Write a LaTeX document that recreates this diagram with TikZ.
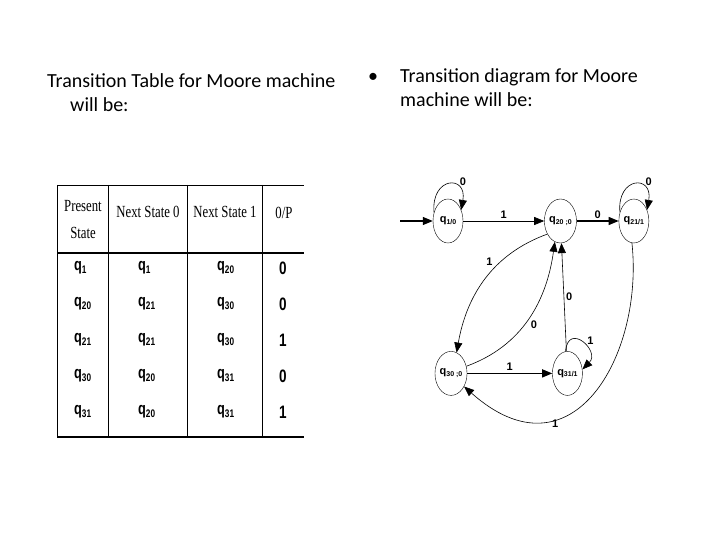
\documentclass[tikz,border=0pt]{standalone}
\usepackage{fontspec}
\setmainfont{Carlito}
\newfontfamily\tabserif[FakeStretch=0.75]{Liberation Serif}
\newfontfamily\tabsans[FakeStretch=0.75]{Liberation Sans}
\newfontfamily\diagsans{Liberation Sans}
\usepackage{tikz}
\usetikzlibrary{arrows.meta, positioning, shapes.geometric}

% q with a lowered index
\newcommand{\tabq}[1]{q\raisebox{-0.3ex}{\fontsize{11}{11}\selectfont #1}}
\newcommand{\stq}[1]{q\raisebox{-0.3ex}{\fontsize{7}{7}\selectfont #1}}

\begin{document}
\begin{tikzpicture}[
    x=1pt, y=1pt,
    >={Triangle[length=10pt, width=8pt]},
    title/.style={anchor=base west, inner sep=0pt, font=\fontsize{20}{24}\selectfont},
    head/.style={align=center, inner sep=0pt, font=\tabserif\fontsize{17}{27}\selectfont},
    cellq/.style={anchor=west, inner sep=0pt, font=\tabsans\bfseries\fontsize{17}{17}\selectfont},
    cellout/.style={inner sep=0pt, font=\tabsans\bfseries\fontsize{18}{18}\selectfont},
    state/.style={ellipse, draw, thin, minimum width=30pt, minimum height=44pt, inner sep=0pt, font=\diagsans\bfseries\fontsize{11}{11}\selectfont},
    lbl/.style={font=\diagsans\bfseries\fontsize{11}{11}\selectfont, inner sep=2pt},
    arrow/.style={->, line width=0.6pt},
    bigarrow/.style={->, line width=1.2pt}
]
    \useasboundingbox (0,0) rectangle (720,-540);

    % Titles
    \node[title] (ttab) at (47,-88) {Transition Table for Moore machine};
    \node[title] (ttab2) at (70,-112) {will be:};
    \node[title] (bullet) at (368,-83) {\textbullet};
    \node[title] (tdia) at (400,-83) {Transition diagram for Moore};
    \node[title] (tdia2) at (400,-107) {machine will be:};

    % Table rules
    \draw[thin] (57,-185) -- (304,-185);
    \draw[line width=1.6pt] (57,-253) -- (304,-253);
    \draw[line width=1.6pt] (57,-437) -- (304,-437);
    \foreach \x in {57,108,187,262}
        \draw[thin] (\x,-185) -- (\x,-437);

    % Table header
    \node[head] (hps) at (83,-220) {Present\\State};
    \node[head] (hnz) at (148,-212) {Next State 0};
    \node[head] (hno) at (225,-212) {Next State 1};
    \node[head] (hop) at (284,-213) {0/P};

    % Table rows
    \foreach \ps/\nz/\no/\op [count=\r] in {1/1/20/0, 20/21/30/0, 21/21/30/1, 30/20/31/0, 31/20/31/1} {
        \node[cellq] (ps\r) at (74,{-232-36*\r}) {\tabq{\ps}};
        \node[cellq] (nz\r) at (138,{-232-36*\r}) {\tabq{\nz}};
        \node[cellq] (no\r) at (217,{-232-36*\r}) {\tabq{\no}};
        \node[cellout] (op\r) at (283,{-232-36*\r}) {\op};
    }

    % States
    \node[state] (q1) at (448,-221) {\stq{1/0}};
    \node[state, right=81pt of q1] (q20) {\stq{20 ;0}};
    \node[state, right=42pt of q20] (q21) {\stq{21/1}};
    \node[state, below=108pt of q1, xshift=3pt] (q30) {\stq{30 ;0}};
    \node[state, right=85pt of q30] (q31) {\stq{31/1}};
    \coordinate (start) at (400,-221);

    % Transitions
    \draw[bigarrow] (start) -- (q1);
    \draw[arrow] (q1.148) .. controls +(95:36) and +(80:36) .. node[lbl, pos=0.7, above right] {0} (q1.40);
    \draw[arrow] (q1) -- node[lbl, above] {1} (q20);
    \draw[bigarrow] (q20) -- node[lbl, above] {0} (q21);
    \draw[arrow] (q21.148) .. controls +(95:36) and +(80:36) .. node[lbl, pos=0.7, above right] {0} (q21.40);
    \draw[arrow] (q20.225) to[out=200, in=80] node[lbl, pos=0.4, above left] {1} (q30.75);
    \draw[arrow] (q30.25) to[out=20, in=262] node[lbl, pos=0.5, below right] {0} (q20.255);
    \draw[arrow] (q31) -- node[lbl, pos=0.5, right] {0} (q20);
    \draw[arrow] (q31.95) .. controls +(85:30) and +(45:26) .. node[lbl, pos=0.6, above right] {1} (q31.15);
    \draw[bigarrow] (q30) -- node[lbl, above] {1} (q31);
    \draw[arrow] (q21.265) .. controls +(12,-112) and +(108,-96) .. node[lbl, pos=0.68, below] {1} (q30.-45);
\end{tikzpicture}
\end{document}
